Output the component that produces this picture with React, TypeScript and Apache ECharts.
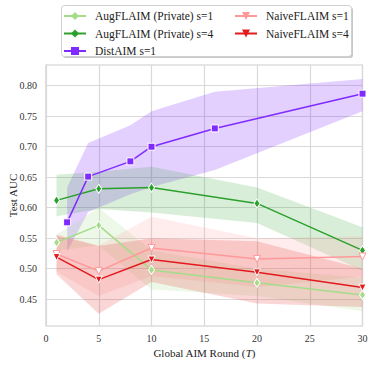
import React, { useEffect, useRef } from "react";
import * as echarts from "echarts";

const augS1X = [1, 5, 10, 20, 30];
const augS1Mean = [0.543, 0.571, 0.498, 0.477, 0.457];
const augS1Lo = [0.530, 0.538, 0.466, 0.455, 0.430];
const augS1Hi = [0.556, 0.600, 0.530, 0.500, 0.485];

const augS4X = [1, 5, 10, 20, 30];
const augS4Mean = [0.612, 0.631, 0.633, 0.607, 0.530];
const augS4Lo = [0.586, 0.598, 0.592, 0.575, 0.497];
const augS4Hi = [0.654, 0.659, 0.667, 0.633, 0.568];

const distX = [2, 4, 8, 10, 16, 30];
const distMean = [0.576, 0.651, 0.676, 0.700, 0.730, 0.787];
const distLo = [0.528, 0.593, 0.622, 0.634, 0.662, 0.758];
const distHi = [0.633, 0.706, 0.735, 0.758, 0.790, 0.811];

const naiveS1X = [1, 5, 10, 20, 30];
const naiveS1Mean = [0.524, 0.496, 0.534, 0.516, 0.520];
const naiveS1Lo = [0.495, 0.455, 0.488, 0.470, 0.487];
const naiveS1Hi = [0.557, 0.538, 0.585, 0.550, 0.553];

const naiveS4X = [1, 5, 10, 20, 30];
const naiveS4Mean = [0.519, 0.482, 0.515, 0.494, 0.469];
const naiveS4Lo = [0.491, 0.426, 0.478, 0.443, 0.437];
const naiveS4Hi = [0.555, 0.537, 0.550, 0.545, 0.500];

const xTicks = [0, 5, 10, 15, 20, 25, 30];
const yTicks = [0.45, 0.5, 0.55, 0.6, 0.65, 0.7, 0.75, 0.8];

const NAMES = {
  a1: "AugFLAIM (Private) s=1",
  a4: "AugFLAIM (Private) s=4",
  d1: "DistAIM s=1",
  n1: "NaiveFLAIM s=1",
  n4: "NaiveFLAIM s=4",
};

const FONT = "'Liberation Serif', 'Times New Roman', serif";

function band(name: string, xs: number[], lo: number[], hi: number[], color: string, opacity: number) {
  const data = xs.map((x, i) => [x, lo[i], hi[i]]);
  return {
    type: "custom",
    name: name + " band",
    silent: true,
    z: 1,
    clip: true,
    data,
    encode: { x: 0, y: [1, 2] },
    renderItem: (params: any, api: any) => {
      if (params.dataIndex !== 0) return null;
      const top = data.map((d) => api.coord([d[0], d[2]]));
      const bot = data.map((d) => api.coord([d[0], d[1]])).reverse();
      return {
        type: "polygon",
        shape: { points: top.concat(bot) },
        style: { fill: color, opacity },
      };
    },
  };
}

function line(
  name: string,
  xs: number[],
  ys: number[],
  color: string,
  symbol: string,
  size: any,
  rotate: number,
  fill: string,
  edge: string
) {
  return {
    type: "line",
    name,
    z: 3,
    data: xs.map((x, i) => [x, ys[i]]),
    symbol,
    symbolSize: size,
    symbolRotate: rotate,
    showSymbol: true,
    clip: true,
    lineStyle: { color, width: 1.5 },
    itemStyle: { color: fill, borderColor: edge, borderWidth: 1 },
    emphasis: { disabled: true },
  };
}

export default function App() {
  const ref = useRef<HTMLDivElement>(null);
  useEffect(() => {
    if (!ref.current) return;
    const chart = echarts.init(ref.current, null, { renderer: "svg" });
    const cA1 = "#a5dc8a";
    const cA4 = "#2ca02c";
    const cD1 = "#7f2bff";
    const cN1 = "#ff9999";
    const cN4 = "#e31a1c";
    const legendCommon = {
      orient: "vertical",
      top: 10,
      itemWidth: 22,
      itemHeight: 10,
      itemGap: 5.5,
      padding: 0,
      itemStyle: { borderWidth: 0 },
      textStyle: {
        fontFamily: FONT,
        fontSize: 11.5,
        color: "#222222",
        lineHeight: 10,
        padding: [0, 0, 0, 4],
      },
      selectedMode: false,
      z: 5,
    };
    chart.setOption({
      animation: false,
      textStyle: { fontFamily: FONT },
      grid: {
        left: 46,
        right: 11.5,
        top: 65,
        bottom: 39,
        outerBoundsMode: "none",
        containLabel: false,
        show: true,
        borderColor: "#cccccc",
        borderWidth: 1.2,
        backgroundColor: "transparent",
      },
      graphic: [
        {
          type: "rect",
          left: 63,
          top: 7,
          z: 0,
          silent: true,
          shape: { width: 290, height: 51, r: 3 },
          style: { fill: "#c8c8c8" },
        },
        {
          type: "rect",
          left: 61,
          top: 5,
          z: 1,
          silent: true,
          shape: { width: 290, height: 51, r: 3 },
          style: { fill: "#ffffff", stroke: "#d0d0d0", lineWidth: 1 },
        },
      ],
      legend: [
        { ...legendCommon, left: 63, data: [NAMES.a1, NAMES.a4, NAMES.d1] },
        {
          ...legendCommon,
          left: 234,
          data: [{ name: NAMES.n1, itemStyle: { color: cN1, borderWidth: 0 } }, NAMES.n4],
        },
      ],
      xAxis: {
        type: "value",
        min: 0,
        max: 30,
        interval: 5,
        name: "Global AIM Round ({i|T})",
        nameLocation: "middle",
        nameGap: 21,
        nameMoveOverlap: false,
        nameTextStyle: {
          fontFamily: FONT,
          fontSize: 11,
          color: "#222222",
          rich: { i: { fontStyle: "italic", fontFamily: FONT, fontSize: 11, color: "#222222" } },
        },
        axisLine: { show: false },
        axisTick: { show: false },
        axisLabel: { fontFamily: FONT, fontSize: 10, color: "#333333", margin: 7, customValues: xTicks },
        splitLine: { show: true, lineStyle: { color: "#d9d9d9", width: 1.2 } },
      },
      yAxis: {
        type: "value",
        min: 0.406,
        max: 0.834,
        name: "Test AUC",
        nameLocation: "middle",
        nameGap: 28,
        nameMoveOverlap: false,
        nameTextStyle: { fontFamily: FONT, fontSize: 11, color: "#222222" },
        axisLine: { show: false },
        axisTick: { show: false, customValues: yTicks },
        axisLabel: {
          fontFamily: FONT,
          fontSize: 10,
          color: "#333333",
          margin: 9,
          customValues: yTicks,
          formatter: (v: number) => v.toFixed(2),
        },
        splitLine: { show: true, lineStyle: { color: "#d9d9d9", width: 1.2 } },
      },
      series: [
        band(NAMES.d1, distX, distLo, distHi, cD1, 0.22),
        band(NAMES.a4, augS4X, augS4Lo, augS4Hi, cA4, 0.18),
        band(NAMES.a1, augS1X, augS1Lo, augS1Hi, cA1, 0.2),
        band(NAMES.n1, naiveS1X, naiveS1Lo, naiveS1Hi, cN1, 0.18),
        band(NAMES.n4, naiveS4X, naiveS4Lo, naiveS4Hi, cN4, 0.18),
        line(NAMES.a1, augS1X, augS1Mean, cA1, "diamond", [6, 9], 0, cA1, "#ffffff"),
        line(NAMES.a4, augS4X, augS4Mean, cA4, "diamond", [6, 9], 0, cA4, "#ffffff"),
        line(NAMES.d1, distX, distMean, cD1, "rect", 7, 0, cD1, "#ffffff"),
        line(NAMES.n1, naiveS1X, naiveS1Mean, cN1, "triangle", 7, 180, "#ffffff", cN1),
        line(NAMES.n4, naiveS4X, naiveS4Mean, cN4, "triangle", 7, 180, cN4, "#ffffff"),
      ],
    });
    return () => chart.dispose();
  }, []);
  return <div ref={ref} style={{ width: 374, height: 365, position: "absolute", left: 0, top: 0 }} />;
}
